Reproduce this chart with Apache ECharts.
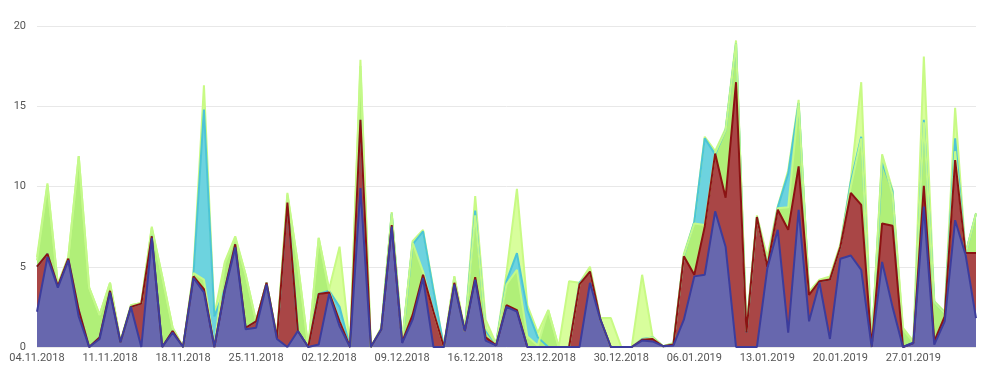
<!DOCTYPE html>
<html>
<head>
<meta charset="utf-8">
<script src="https://cdn.jsdelivr.net/npm/echarts@6/dist/echarts.min.js"></script>
<style>
html,body{margin:0;padding:0;background:#fff;}
#chart{width:982px;height:368px;}
</style>
</head>
<body>
<div id="chart"></div>
<script>
// Categories: daily dates from 04.11.2018 to 02.02.2019
var startDate = Date.UTC(2018, 10, 4);
var dayCount = 91;
var categories = [];
for (var i = 0; i < dayCount; i++) {
  var d = new Date(startDate + i * 86400000);
  var dd = ('0' + d.getUTCDate()).slice(-2);
  var mm = ('0' + (d.getUTCMonth() + 1)).slice(-2);
  categories.push(dd + '.' + mm + '.' + d.getUTCFullYear());
}

var yTicks = [0, 5, 10, 15, 20];

var paleValues = [5.6,10.2,3.9,5.6,11.9,3.7,2.0,4.0,0.35,2.6, 2.75,7.5,4.4,1.2,0,4.7,16.3,2.0,5.3,6.9, 4.5,1.6,4.0,0.65,9.6,5.2,0,6.8,3.6,6.25, 0,17.9,0,1.2,8.4,0.35,6.6,7.3,3.6,0, 4.4,1.0,9.4,1.7,0.2,4.6,9.85,2.6,0.9,2.3, 0,4.1,4.0,5.0,1.8,1.8,0,0,4.5,0.65, 0.05,0.25,5.8,7.8,13.1,12.2,13.6,19.1,1.2,8.2, 5.6,8.75,11.0,15.4,3.45,4.2,4.4,6.4,10.4,16.5, 0,12.0,9.8,1.2,0.35,18.1,2.85,2.2,14.9,5.85, 8.35];

var cyanValues = [5.0,5.8,3.8,5.5,2.3,0,0.6,3.5,0.3,2.5, 2.7,7.0,0,1.0,0,4.5,14.8,1.9,3.6,6.4, 1.2,1.6,4.0,0.55,9.0,1.0,0,3.3,3.5,2.5, 0,14.15,0,1.1,8.3,0.3,6.4,7.2,3.5,0, 4.0,1.0,8.5,1.0,0.2,4.1,5.85,2.3,0.6,0, 0,0,4.0,4.7,1.7,0,0,0,0.5,0.6, 0.05,0.2,5.65,7.8,13.0,12.0,13.5,18.9,0.9,8.1, 5.1,8.7,10.8,15.2,3.3,4.1,4.2,6.25,10.3,13.1, 0,11.5,9.7,0,0.3,14.15,2.8,2.1,13.0,5.8, 8.3];

var greenValues = [5.4,10.1,3.9,5.6,11.9,3.7,2.0,4.0,0.35,2.6, 2.75,7.4,4.4,1.2,0,4.6,4.2,0,5.2,6.8, 4.5,1.6,4.0,0.65,9.5,5.2,0,6.8,3.5,1.6, 0,17.5,0,1.2,8.3,0.35,6.5,4.7,2.2,0, 4.4,1.0,8.2,1.2,0.2,3.9,4.8,0.65,0.1,2.3, 0,0,3.9,4.8,1.7,0,0,0,0.45,0.6, 0.05,0.2,5.7,7.7,7.6,12.1,13.5,18.9,1.0,8.1, 5.1,8.65,8.7,15.2,3.4,4.15,4.3,6.3,10.0,13.0, 0,11.9,9.5,1.1,0.3,14.0,2.8,2.1,12.2,5.8, 8.3];

var redValues = [5.0,5.8,3.8,5.5,2.3,0,0.6,3.5,0.3,2.5, 2.7,6.9,0,1.0,0,4.4,3.6,0,3.6,6.4, 1.2,1.6,4.0,0.55,9.0,1.0,0,3.3,3.4,1.6, 0,14.15,0,1.1,7.6,0.3,2.0,4.5,2.2,0, 4.0,1.0,4.35,0.6,0.1,2.6,2.3,0,0,0, 0,0,3.9,4.7,1.7,0,0,0,0.45,0.5, 0.05,0.15,5.65,4.5,7.5,12.05,9.3,16.5,0.9,8.1, 5.0,8.55,7.3,11.25,3.25,4.1,4.2,6.25,9.6,8.85, 0,7.7,7.55,0,0.25,10.05,0.35,1.9,11.65,5.85, 5.85];

var blueValues = [2.2,5.6,3.7,5.4,1.9,0,0.5,3.4,0.3,2.5, 0,6.8,0,0.9,0,4.3,3.4,0,3.5,6.2, 1.1,1.2,3.9,0.5,0,1.0,0,0.15,3.3,1.3, 0,9.9,0,1.1,7.5,0.25,1.7,4.3,0,0, 3.9,1.0,4.2,0.4,0.1,2.5,2.2,0,0,0, 0,0,0,4.0,1.7,0,0,0,0.4,0.35, 0.05,0.1,1.7,4.4,4.5,8.45,6.25,0,0,0, 4.9,7.3,0.9,8.55,1.6,4.0,0.5,5.5,5.7,4.8, 0,5.3,2.5,0,0.25,8.75,0.15,1.6,7.9,5.75, 1.8];

function areaSeries(name, data, fill, line) {
  return {
    name: name,
    type: 'line',
    data: data,
    symbol: 'none',
    showSymbol: false,
    animation: false,
    lineStyle: { color: line, width: 2 },
    itemStyle: { color: line },
    areaStyle: { color: fill, opacity: 1 }
  };
}

var chart = echarts.init(document.getElementById('chart'), null, { renderer: 'canvas' });
chart.setOption({
  animation: false,
  grid: { left: 37, right: 6, top: 26, bottom: 21, containLabel: false },
  xAxis: {
    type: 'category',
    data: categories,
    boundaryGap: false,
    axisLine: { show: false },
    axisTick: { show: false },
    splitLine: { show: false },
    axisLabel: {
      interval: 6,
      color: '#555',
      fontFamily: 'Roboto',
      fontSize: 11,
      margin: 6
    }
  },
  yAxis: {
    type: 'value',
    min: yTicks[0],
    max: yTicks[yTicks.length - 1],
    interval: 5,
    axisLine: { show: false },
    axisTick: { show: false },
    splitLine: { lineStyle: { color: '#e8e8e8', width: 1 } },
    axisLabel: {
      color: '#555',
      fontFamily: 'Roboto',
      fontSize: 11,
      margin: 11
    }
  },
  series: [
    areaSeries('A', paleValues, '#d8fe9c', '#c8fa84'),
    areaSeries('B', cyanValues, '#6dd3df', '#4cc5d6'),
    areaSeries('C', greenValues, '#b0ef78', '#c3f98a'),
    areaSeries('D', redValues, '#a94646', '#8b1313'),
    areaSeries('E', blueValues, '#6767ae', '#3c3c9c')
  ]
});
</script>
</body>
</html>
